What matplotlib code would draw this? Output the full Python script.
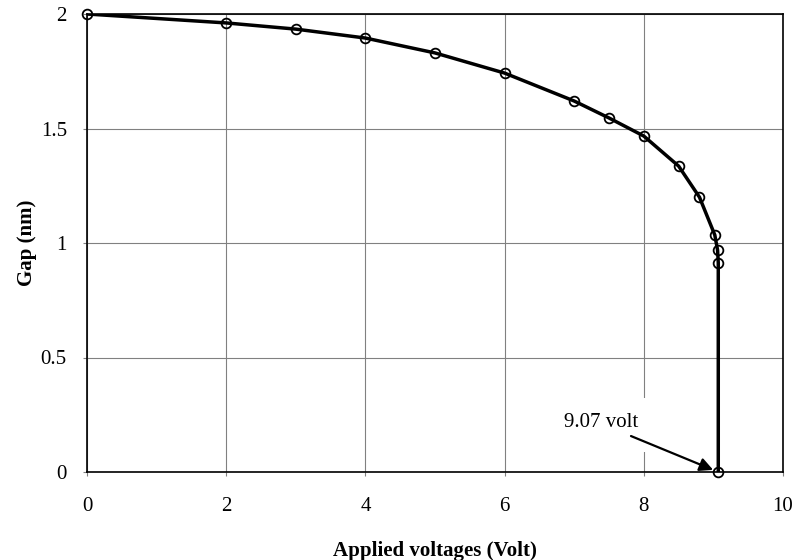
import matplotlib
matplotlib.use("Agg")
import matplotlib.pyplot as plt
from matplotlib.patches import Rectangle

voltage = [0, 2, 3, 4, 5, 6, 7, 7.5, 8, 8.5, 8.8, 9.02, 9.06, 9.07, 9.07]
gap = [2.0, 1.961, 1.934, 1.895, 1.83, 1.742, 1.62, 1.546, 1.467, 1.336, 1.2, 1.035, 0.969, 0.913, 0.0]
xticks = [0, 2, 4, 6, 8, 10]
yticks = [0, 0.5, 1, 1.5, 2]
ytick_labels = ["0", "0.5", "1", "1.5", "2"]
pull_in_voltage = 9.07

plt.rcParams['font.family'] = ['Liberation Serif', 'DejaVu Serif']

fig = plt.figure(figsize=(7.98, 5.6), dpi=100)
ax = fig.add_axes([87/798, 88/560, 696/798, 458/560])

ax.plot(voltage, gap, color='black', lw=2.5, zorder=3)
ax.plot(voltage, gap, linestyle='none', marker='o', ms=7, mfc='none', mec='black', mew=1.3, zorder=4, clip_on=False)

ax.set_xlim(0, 10)
ax.set_ylim(0, 2)
ax.set_xticks(xticks)
ax.set_yticks(yticks)
ax.set_yticklabels(ytick_labels)
ax.grid(True, color='#808080', lw=0.8)
ax.set_axisbelow(True)
ax.tick_params(axis='both', labelsize=15, length=3, color='#808080')
ax.tick_params(axis='x', pad=15)
ax.tick_params(axis='y', pad=11.5)
for s in ax.spines.values():
    s.set_linewidth(1.2)

ax.set_xlabel('Applied voltages (Volt)', fontsize=15, fontweight='bold', labelpad=18)
ax.set_ylabel('Gap (nm)', fontsize=15, fontweight='bold', labelpad=3)

# white background behind the annotation label (hides the grid line there)
ax.add_patch(Rectangle((6.8, 0.087), 1.23, 0.236, facecolor='white', edgecolor='none', zorder=1.5))
ax.text(7.385, 0.1965, f'{pull_in_voltage:.2f} volt', fontsize=15, ha='center', va='baseline', zorder=5)
ax.annotate('', xy=(pull_in_voltage, 0.0), xytext=(7.816, 0.157),
            arrowprops=dict(arrowstyle='-|>', color='black', lw=1.6, mutation_scale=20,
                            shrinkA=0, shrinkB=4),
            zorder=5)

fig.savefig('out.png', dpi=100)
